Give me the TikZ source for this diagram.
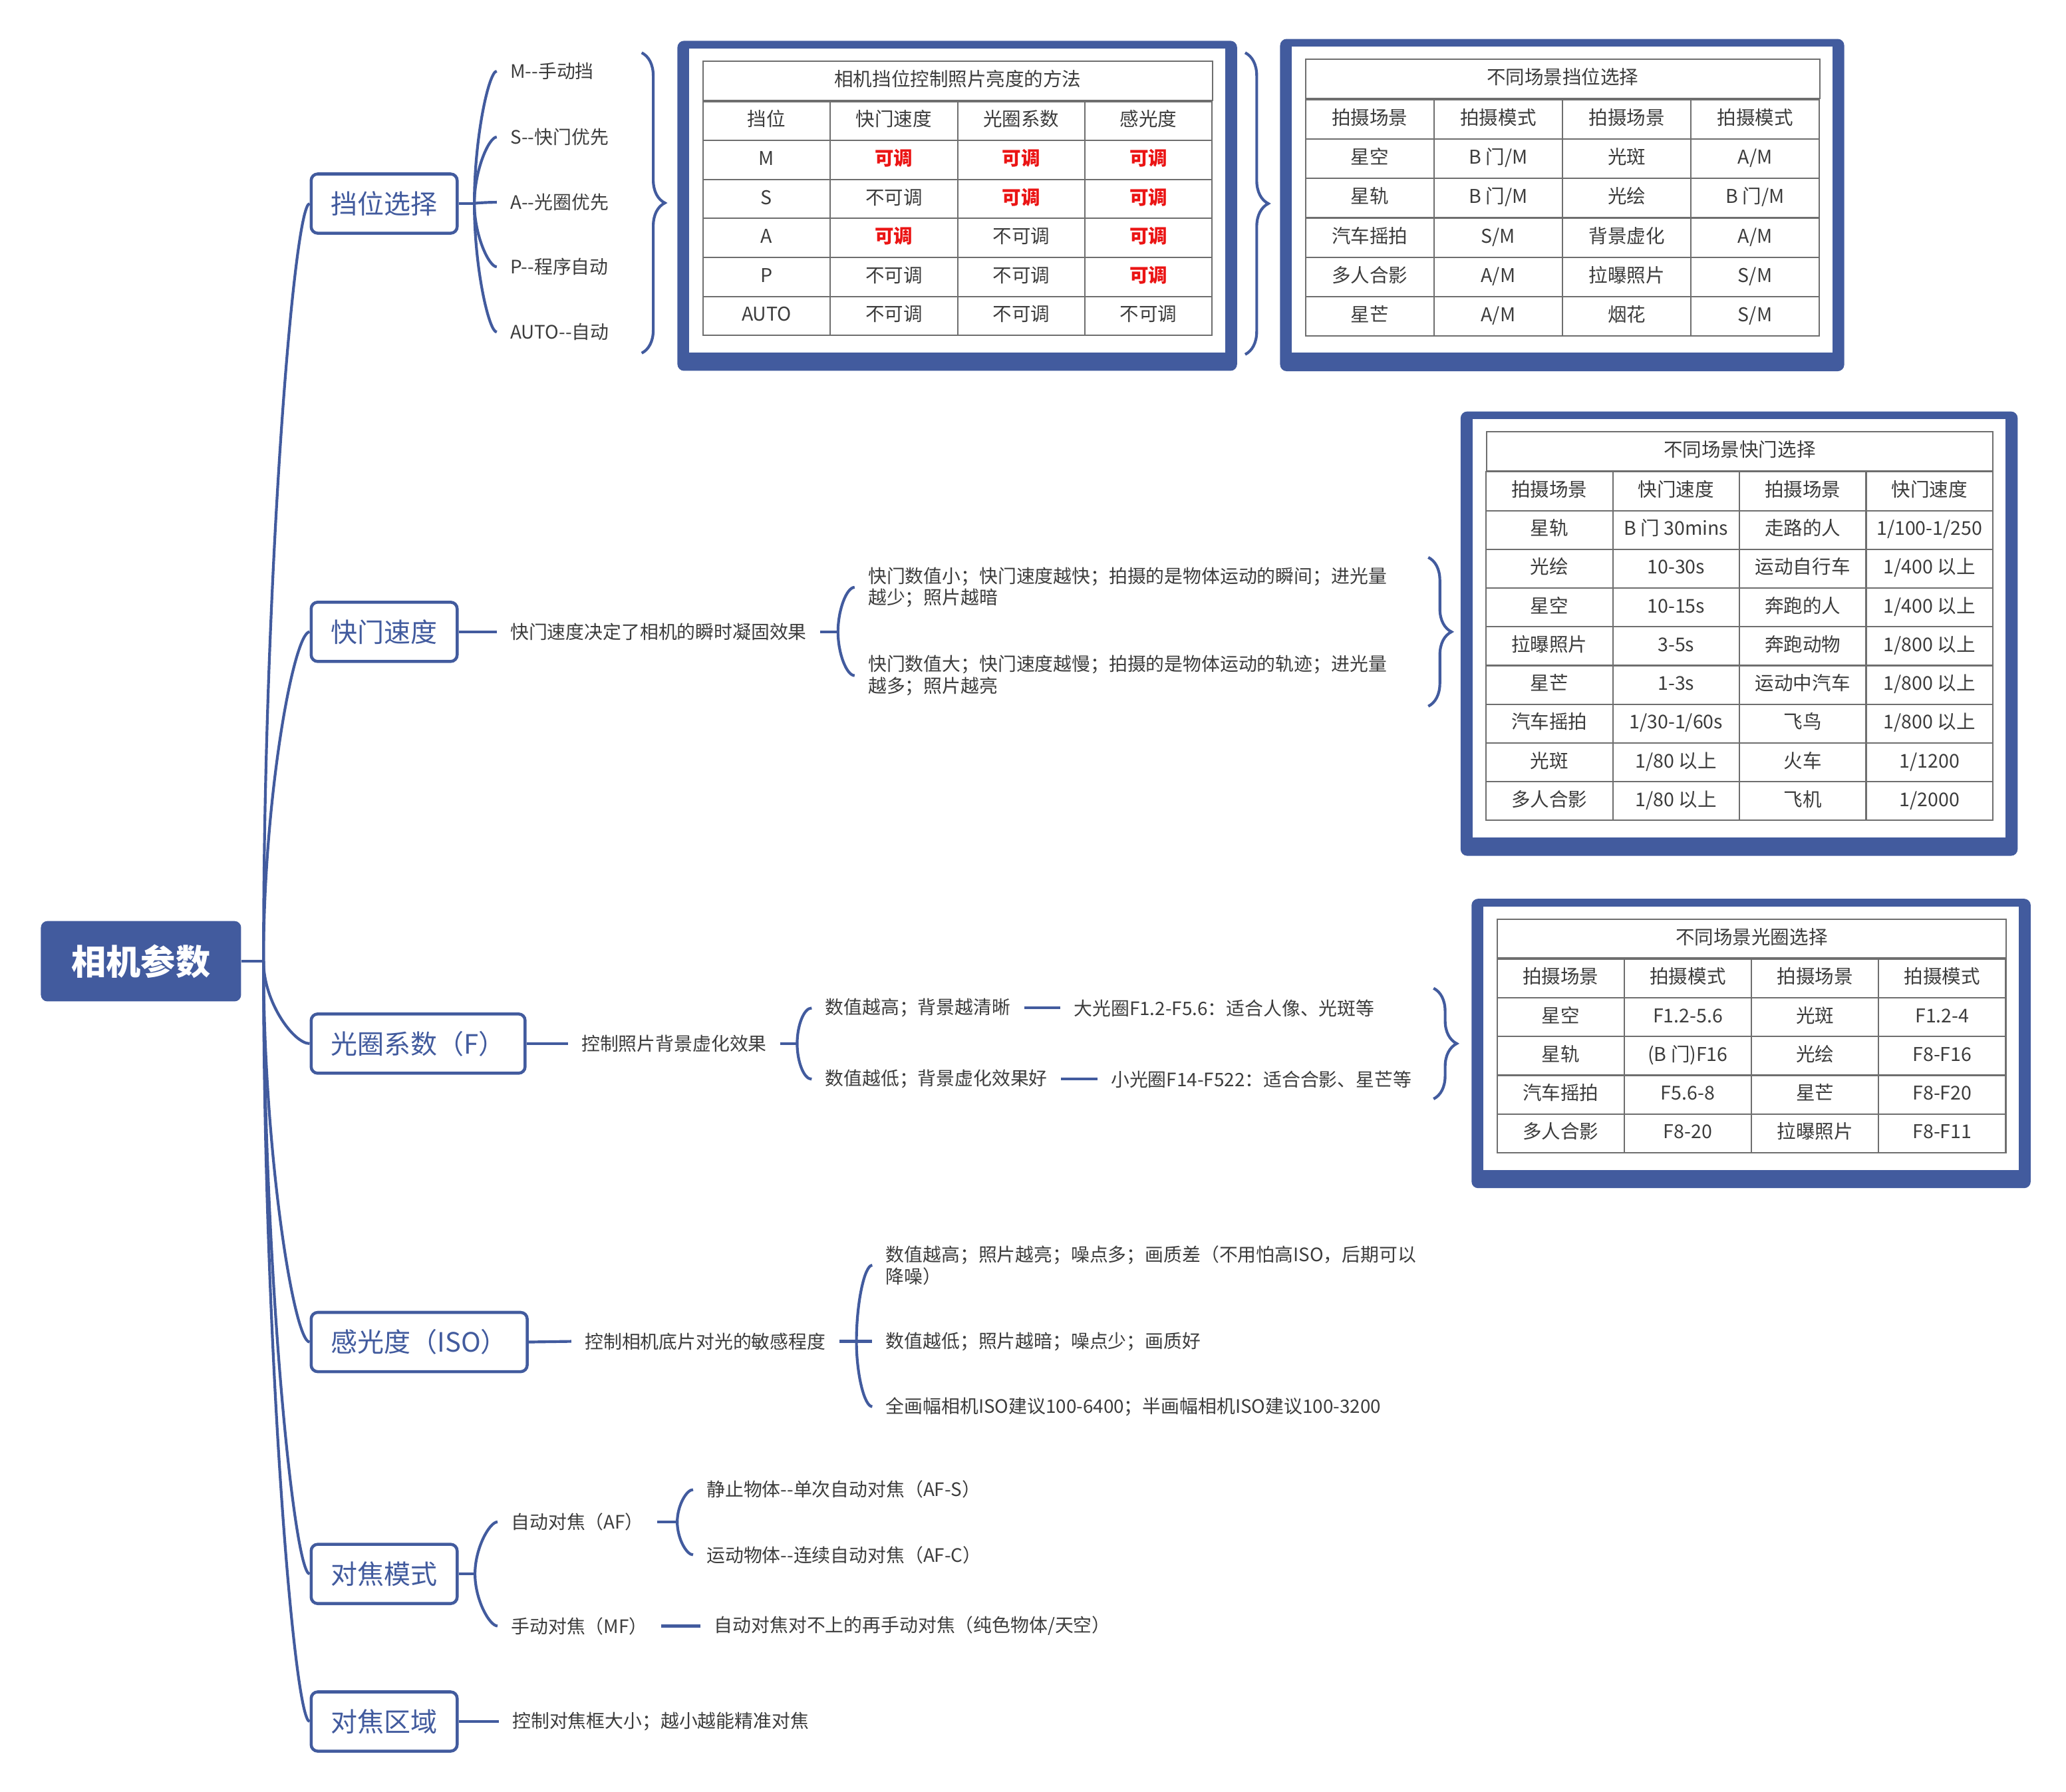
\documentclass[tikz,border=0pt]{standalone}
\usepackage{fontspec}
\setmainfont{Noto Sans CJK SC}
\usepackage{tikz}
\usetikzlibrary{positioning,calc,matrix,backgrounds,decorations.pathreplacing}
\definecolor{mapblue}{RGB}{66,91,158}
\definecolor{txtgray}{RGB}{60,60,60}
\definecolor{gridgray}{RGB}{110,110,110}
\definecolor{camred}{RGB}{235,20,20}
\tikzstyle{root} = [fill=mapblue, text=white, rounded corners=0.1cm,
    minimum width=3.04cm, minimum height=1.22cm, font=\fontsize{15}{18}\selectfont\bfseries]
\tikzstyle{topic} = [draw=mapblue, line width=1.3pt, fill=white, text=mapblue,
    rounded corners=0.1cm, minimum height=0.9cm, inner xsep=0.3cm, anchor=west,
    font=\fontsize{11.5}{14}\selectfont]
\tikzstyle{item} = [anchor=west, inner xsep=0.2cm, inner ysep=1pt, text=txtgray,
    align=left, font=\fontsize{8}{9.4}\selectfont]
\tikzstyle{link} = [draw=mapblue, line width=1.2pt]
\tikzstyle{bracket} = [draw=mapblue, line width=1.2pt, decorate, decoration={brace, amplitude=10pt}]
\tikzstyle{cell} = [draw=gridgray, line width=0.6pt, inner sep=0pt, anchor=center,
    text height=6.2pt, text depth=1.6pt, text=txtgray, font=\fontsize{8.2}{9}\selectfont]
\tikzstyle{hot} = [text=camred, font=\fontsize{8.2}{9}\selectfont\bfseries]
\tikzstyle{datatable} = [matrix of nodes, inner sep=0pt, row sep=-0.6pt, column sep=-0.6pt, anchor=north west]
\tikzstyle{tabletitle} = [cell, anchor=south west, xshift=0.3pt, yshift=-0.3pt]
\tikzstyle{frame} = [fill=mapblue, rounded corners=0.1cm]
\tikzset{fan/.style={to path={.. controls ($(\tikztostart)!0.5!(\tikztostart|-\tikztotarget)$)
    and ($(\tikztotarget)+(-#1,0)$) .. (\tikztotarget)}}, fan/.default=12}

\begin{document}
\begin{tikzpicture}[x=0.02cm, y=-0.02cm]
	\useasboundingbox (0,0) rectangle (1568,1360);
	
	% root and main branches
	\node[root] (cam) at (107,729.5) {相机参数};
	\coordinate (hub) at (200,729.5);
	\draw[link] (cam.east) -- (hub);
	
	\node[topic] (gear) at (235,154.5) {挡位选择};
	\node[topic] (shut) at (235,479.5) {快门速度};
	\node[topic] (aper) at (235,792) {光圈系数（F）};
	\node[topic] (iso) at (235,1018.5) {感光度（ISO）};
	\node[topic] (fmode) at (235,1194.5) {对焦模式};
	\node[topic] (farea) at (235,1306.5) {对焦区域};
	\foreach \n in {gear,shut,aper,iso,fmode,farea}
		\draw[link] (hub) to[fan] (\n.west);
	
	% gear modes
	\coordinate (gearhub) at (360,154.5);
	\draw[link] (gear.east) -- (gearhub);
	\node[item] (gM) at (377,54) {M-{}-手动挡};
	\node[item] (gS) at (377,104) {S-{}-快门优先};
	\node[item] (gA) at (377,153.5) {A-{}-光圈优先};
	\node[item] (gP) at (377,202.5) {P-{}-程序自动};
	\node[item] (gAuto) at (377,252) {AUTO-{}-自动};
	\foreach \n in {gM,gS,gA,gP,gAuto}
		\draw[link] (gearhub) to[fan=6] (\n.west);
	\draw[bracket] (487,40) -- (487,268);
	\draw[bracket] (945,40) -- (945,269);
	
	\matrix[datatable, nodes={cell, minimum width=1.933cm, minimum height=0.592cm}] (tabA) at (532.6,76.1) {
		挡位 & 快门速度 & 光圈系数 & 感光度 \\
		M & |[hot]| 可调 & |[hot]| 可调 & |[hot]| 可调 \\
		S & 不可调 & |[hot]| 可调 & |[hot]| 可调 \\
		A & |[hot]| 可调 & 不可调 & |[hot]| 可调 \\
		P & 不可调 & 不可调 & |[hot]| 可调 \\
		AUTO & 不可调 & 不可调 & 不可调 \\
	};
	\node[tabletitle, minimum width=7.732cm, minimum height=0.592cm] (tabA-title) at (tabA.north west) {相机挡位控制照片亮度的方法};
	
	\matrix[datatable, nodes={cell, minimum width=1.95cm, minimum height=0.597cm}] (tabB) at (990,74.9) {
		拍摄场景 & 拍摄模式 & 拍摄场景 & 拍摄模式 \\
		星空 & B 门/M & 光斑 & A/M \\
		星轨 & B 门/M & 光绘 & B 门/M \\
		汽车摇拍 & S/M & 背景虚化 & A/M \\
		多人合影 & A/M & 拉曝照片 & S/M \\
		星芒 & A/M & 烟花 & S/M \\
	};
	\node[tabletitle, minimum width=7.8cm, minimum height=0.597cm] (tabB-title) at (tabB.north west) {不同场景挡位选择};
	
	% shutter speed
	\node[item] (shutnote) at (377,479.5) {快门速度决定了相机的瞬时凝固效果};
	\draw[link] (shut.east) -- (shutnote.west);
	\coordinate (shuthub) at (636,479.5);
	\draw[link] (shutnote.east) -- (shuthub);
	\node[item] (fast) at (648.6,445.7) {快门数值小；快门速度越快；拍摄的是物体运动的瞬间；进光量\\越少；照片越暗};
	\node[item] (slow) at (648.6,512.7) {快门数值大；快门速度越慢；拍摄的是物体运动的轨迹；进光量\\越多；照片越亮};
	\foreach \n in {fast,slow}
		\draw[link] (shuthub) to[fan=6] (\n.west);
	\draw[bracket] (1084,423) -- (1084,536);
	
	\matrix[datatable, nodes={cell, minimum width=1.923cm, minimum height=0.588cm}] (tabC) at (1127,357.2) {
		拍摄场景 & 快门速度 & 拍摄场景 & 快门速度 \\
		星轨 & B 门 30mins & 走路的人 & 1/100-1/250 \\
		光绘 & 10-30s & 运动自行车 & 1/400 以上 \\
		星空 & 10-15s & 奔跑的人 & 1/400 以上 \\
		拉曝照片 & 3-5s & 奔跑动物 & 1/800 以上 \\
		星芒 & 1-3s & 运动中汽车 & 1/800 以上 \\
		汽车摇拍 & 1/30-1/60s & 飞鸟 & 1/800 以上 \\
		光斑 & 1/80 以上 & 火车 & 1/1200 \\
		多人合影 & 1/80 以上 & 飞机 & 1/2000 \\
	};
	\node[tabletitle, minimum width=7.692cm, minimum height=0.588cm] (tabC-title) at (tabC.north west) {不同场景快门选择};
	
	% aperture
	\node[item] (apernote) at (431,792) {控制照片背景虚化效果};
	\draw[link] (aper.east) -- (apernote.west);
	\coordinate (aperhub) at (605,792);
	\draw[link] (apernote.east) -- (aperhub);
	\node[item] (hiF) at (616,765) {数值越高；背景越清晰};
	\node[item] (loF) at (616,819) {数值越低；背景虚化效果好};
	\foreach \n in {hiF,loF}
		\draw[link] (aperhub) to[fan=6] (\n.west);
	\node[item, right=0.55cm of hiF] (bigF) {大光圈F1.2-F5.6：适合人像、光斑等};
	\node[item, right=0.55cm of loF] (smallF) {小光圈F14-F522：适合合影、星芒等};
	\draw[link] (hiF.east) -- (bigF.west);
	\draw[link] (loF.east) -- (smallF.west);
	\draw[bracket] (1088,750) -- (1088,834);
	
	\matrix[datatable, nodes={cell, minimum width=1.931cm, minimum height=0.588cm}] (tabD) at (1135.3,727) {
		拍摄场景 & 拍摄模式 & 拍摄场景 & 拍摄模式 \\
		星空 & F1.2-5.6 & 光斑 & F1.2-4 \\
		星轨 & (B 门)F16 & 光绘 & F8-F16 \\
		汽车摇拍 & F5.6-8 & 星芒 & F8-F20 \\
		多人合影 & F8-20 & 拉曝照片 & F8-F11 \\
	};
	\node[tabletitle, minimum width=7.724cm, minimum height=0.588cm] (tabD-title) at (tabD.north west) {不同场景光圈选择};
	
	% ISO
	\node[item] (isonote) at (433.6,1018) {控制相机底片对光的敏感程度};
	\draw[link] (iso.east) -- (isonote.west);
	\coordinate (isohub) at (650,1018);
	\draw[link] (isonote.east) -- (isohub);
	\node[item] (hiIso) at (662,960.2) {数值越高；照片越亮；噪点多；画质差（不用怕高ISO，后期可以\\降噪）};
	\node[item] (loIso) at (662,1018) {数值越低；照片越暗；噪点少；画质好};
	\node[item] (tipIso) at (662,1067.5) {全画幅相机ISO建议100-6400；半画幅相机ISO建议100-3200};
	\foreach \n in {hiIso,loIso,tipIso}
		\draw[link] (isohub) to[fan=6] (\n.west);
	
	% focus mode
	\coordinate (fmodehub) at (360.5,1194.5);
	\draw[link] (fmode.east) -- (fmodehub);
	\node[item] (af) at (377.6,1155) {自动对焦（AF）};
	\node[item] (mf) at (377.6,1234) {手动对焦（MF）};
	\foreach \n in {af,mf}
		\draw[link] (fmodehub) to[fan=6] (\n.west);
	\coordinate (afhub) at (514,1155);
	\draw[link] (af.east) -- (afhub);
	\node[item] (afs) at (526,1130.5) {静止物体-{}-单次自动对焦（AF-S）};
	\node[item] (afc) at (526,1180) {运动物体-{}-连续自动对焦（AF-C）};
	\foreach \n in {afs,afc}
		\draw[link] (afhub) to[fan=5] (\n.west);
	\node[item, right=0.6cm of mf] (mfnote) {自动对焦对不上的再手动对焦（纯色物体/天空）};
	\draw[link] (mf.east) -- (mfnote.west);
	
	% focus area
	\node[item] (fareanote) at (378.6,1306.5) {控制对焦框大小；越小越能精准对焦};
	\draw[link] (farea.east) -- (fareanote.west);
	
	% table frames
	\begin{scope}[on background layer]
		\foreach \t in {tabA,tabB,tabC,tabD} {
			\fill[frame] ($(\t-title.north west)+(-19,-15)$) rectangle ($(\t.south east)+(18,26)$);
			\fill[white] ($(\t-title.north west)+(-10,-9)$) rectangle ($(\t.south east)+(9,12)$);
		}
	\end{scope}
\end{tikzpicture}
\end{document}
